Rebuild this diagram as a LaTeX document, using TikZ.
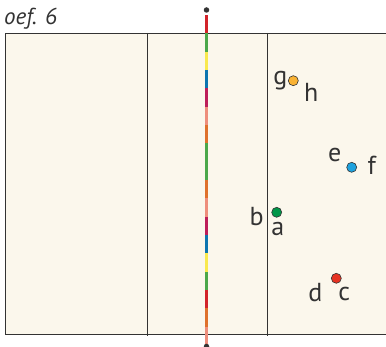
\documentclass[tikz,border=0pt]{standalone}
\usepackage{fontspec}
\setmainfont{PT Sans}
\usetikzlibrary{positioning}

\definecolor{paper}{HTML}{FBF7EC}
\definecolor{ink}{HTML}{333333}
\definecolor{rodred}{HTML}{D2232A}
\definecolor{rodgreen}{HTML}{4BA84A}
\definecolor{rodyellow}{HTML}{F9E94E}
\definecolor{rodblue}{HTML}{0C75B0}
\definecolor{rodcrimson}{HTML}{BD1E59}
\definecolor{rodsalmon}{HTML}{EE8E7C}
\definecolor{rodorange}{HTML}{DF712C}
\definecolor{ptyellow}{HTML}{F9B233}
\definecolor{ptblue}{HTML}{1EA2DE}
\definecolor{ptgreen}{HTML}{009648}
\definecolor{ptred}{HTML}{E63323}

\begin{document}
\begin{tikzpicture}[x=1pt,y=-1pt,
        dot/.style={circle, draw=ink, line width=0.6pt, minimum size=10pt, inner sep=0pt},
        pin/.style={circle, fill=ink, minimum size=5.5pt, inner sep=0pt},
        lbl/.style={text=ink, font=\fontsize{26}{26}\selectfont, inner sep=0pt, text height=12pt, text depth=0pt},
        frame/.style={draw=ink, line width=0.9pt},
        divider/.style={draw=ink, line width=0.6pt}]
    \useasboundingbox (0,0) rectangle (386,347);

    % sheet
    \fill[paper] (5,33) rectangle (390,334);
    \draw[frame] (390,33) -- (5,33) -- (5,334) -- (390,334);
    \draw[divider] (147,33) -- (147,336);
    \draw[divider] (267,33) -- (267,336);

    \node[anchor=base west, text=ink, inner sep=0pt, font=\fontsize{23}{23}\selectfont\itshape] (title) at (4,25) {oef. 6};

    % mirror
    \foreach \c [count=\i from 0] in {rodred,rodgreen,rodyellow,rodblue,rodcrimson,rodsalmon,rodorange,rodgreen,rodgreen,rodorange,rodsalmon,rodcrimson,rodblue,rodyellow,rodgreen,rodred,rodorange,rodsalmon}
        \fill[\c] (204.8,15+\i*18.33) rectangle ++(3.4,18.33);
    \node[pin] (top) at (206.5,10) {};
    \node[pin] (bottom) at (206.5,346.5) {};

    % points
    \node[dot, fill=ptyellow] (gh) at (293.3,80.7) {};
    \node[dot, fill=ptblue] (ef) at (351.7,167.3) {};
    \node[dot, fill=ptgreen] (ba) at (276.7,212.3) {};
    \node[dot, fill=ptred] (dc) at (336.3,278.3) {};

    \node[lbl] (g) at ([shift={(-13,-2)}]gh) {g};
    \node[lbl] (h) at ([shift={(18,15)}]gh) {h};
    \node[lbl] (e) at ([shift={(-17,-12)}]ef) {e};
    \node[lbl] (f) at ([shift={(20,1)}]ef) {f};
    \node[lbl] (b) at ([shift={(-20,7)}]ba) {b};
    \node[lbl] (a) at ([shift={(1,17)}]ba) {a};
    \node[lbl] (d) at ([shift={(-21,17)}]dc) {d};
    \node[lbl] (c) at ([shift={(8,16)}]dc) {c};
\end{tikzpicture}
\end{document}
